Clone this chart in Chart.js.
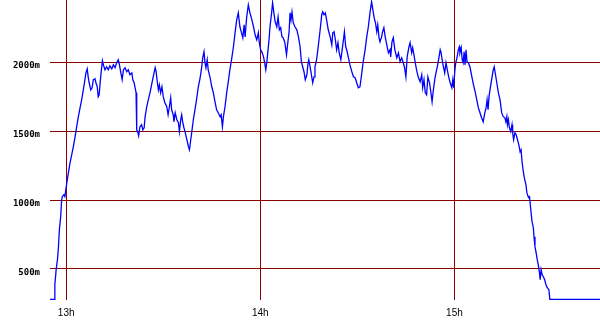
<!DOCTYPE html>
<html>
<head>
<meta charset="utf-8">
<script src="https://cdn.jsdelivr.net/npm/chart.js@4/dist/chart.umd.min.js"></script>
<style>
html,body{margin:0;padding:0;background:#fff;}
#c{display:block;}
</style>
</head>
<body>
<canvas id="c" width="600" height="330"></canvas>
<script>
// time in minutes after 12:00
const minutes = [55.0,56.5,56.5,56.9,57.3,57.6,57.9,58.3,58.6,58.8,59.3,59.6,59.9,60.2,60.7,61.2,61.7,62.2,62.7,63.2,63.7,64.3,64.8,65.3,65.8,66.1,66.5,66.8,67.1,67.6,68.0,68.4,68.9,69.2,69.6,69.9,70.2,70.5,70.8,71.2,71.5,72.0,72.5,73.0,73.5,74.1,74.6,75.1,75.6,76.1,76.4,76.9,77.3,77.7,78.2,78.7,79.2,79.7,80.3,80.6,81.0,81.3,81.6,81.8,82.1,82.4,82.8,83.3,83.7,84.1,84.4,84.9,85.4,85.9,86.4,86.9,87.5,87.8,88.2,88.5,88.8,89.2,89.6,90.0,90.5,91.1,91.5,91.9,92.3,92.6,93.1,93.3,93.7,94.2,94.7,95.0,95.4,95.7,96.0,96.4,96.8,97.3,97.8,98.1,98.5,98.8,99.3,99.8,100.3,100.8,101.4,101.9,102.2,102.6,102.9,103.2,103.6,103.9,104.5,105.0,105.5,106.0,106.5,107.0,107.6,107.9,108.3,108.6,109.1,109.6,110.1,110.6,111.2,111.7,112.2,112.7,113.2,113.7,114.2,114.6,115.0,115.3,115.8,116.3,116.8,117.4,117.9,118.4,118.9,119.4,119.7,120.1,120.6,121.0,121.3,121.7,122.0,122.3,122.7,123.0,123.5,123.8,124.2,124.6,125.1,125.5,125.9,126.3,126.7,127.1,127.6,128.1,128.5,128.9,129.2,129.5,129.8,130.2,130.7,131.3,131.8,132.3,132.7,133.1,133.5,133.9,134.4,134.7,135.0,135.4,135.8,136.2,136.6,136.9,137.4,137.9,138.5,139.0,139.3,139.7,140.1,140.5,141.0,141.6,142.1,142.4,142.8,143.2,143.6,144.0,144.4,144.9,145.3,145.7,146.0,146.4,146.7,147.2,147.7,148.3,148.8,149.3,149.8,150.3,150.8,151.1,151.5,151.8,152.4,152.9,153.4,153.9,154.4,154.8,155.2,155.6,156.0,156.3,156.7,157.0,157.5,157.8,158.2,158.6,159.1,159.6,160.1,160.3,160.7,161.1,161.6,162.2,162.7,163.2,163.7,164.2,164.6,165.0,165.4,165.9,166.3,166.8,167.1,167.5,167.9,168.3,168.8,169.4,169.9,170.2,170.6,171.0,171.4,171.8,172.3,172.7,173.1,173.5,174.0,174.5,175.0,175.6,175.9,176.2,176.6,177.0,177.4,177.8,178.3,178.7,179.2,179.5,179.8,180.1,180.4,180.8,181.2,181.5,181.7,182.1,182.4,182.7,183.0,183.3,183.6,183.9,184.3,184.8,185.4,185.9,186.4,186.9,187.4,187.9,188.4,188.9,189.4,189.8,190.1,190.4,190.7,191.0,191.5,192.0,192.3,192.7,193.1,193.6,194.1,194.6,195.1,195.6,195.9,196.2,196.4,196.7,197.0,197.4,197.8,198.0,198.3,198.7,199.1,199.5,199.9,200.3,200.6,200.9,201.3,201.6,202.1,202.4,202.9,203.2,203.4,203.7,204.0,204.4,204.6,204.9,205.2,205.6,205.9,206.3,206.5,206.8,207.1,207.5,207.9,208.3,208.7,209.2,209.5,225.0];
// altitude in metres
const altitude = [280,280,386,495,567,654,785,879,1002,1024,1038,1024,1075,1125,1198,1270,1328,1386,1451,1524,1596,1669,1727,1799,1872,1922,1951,1893,1850,1799,1814,1872,1879,1850,1821,1749,1763,1850,1922,2009,1980,1944,1966,1944,1973,1951,1980,1959,1995,2017,1988,1922,1872,1944,1959,1930,1944,1908,1922,1872,1850,1814,1778,1509,1495,1466,1531,1546,1509,1524,1604,1676,1727,1777,1835,1893,1959,1930,1850,1799,1835,1777,1821,1749,1705,1676,1618,1676,1741,1654,1618,1567,1633,1582,1560,1495,1582,1618,1567,1524,1488,1437,1386,1364,1437,1488,1582,1654,1727,1814,1886,1966,2031,2075,1995,1959,2017,1944,1886,1821,1777,1712,1654,1633,1604,1618,1531,1604,1676,1777,1857,1944,2031,2111,2212,2306,2357,2256,2212,2176,2270,2183,2328,2415,2357,2306,2256,2198,2162,2212,2140,2089,2067,2038,2002,1944,1995,2067,2162,2256,2357,2430,2357,2292,2256,2328,2234,2249,2183,2176,2140,2053,2140,2220,2357,2306,2364,2285,2256,2234,2183,2111,2002,1966,1930,1872,1908,1980,2017,1966,1908,1850,1893,1966,2017,2111,2234,2343,2364,2343,2357,2306,2234,2183,2125,2212,2220,2162,2089,2140,2067,2017,2089,2162,2220,2111,2089,2038,1980,1930,1893,1886,1850,1814,1821,1872,1944,2002,2089,2183,2256,2357,2437,2379,2321,2285,2220,2270,2176,2147,2183,2220,2249,2183,2125,2067,2089,2038,2147,2176,2089,2031,2067,2002,2031,1995,1959,1893,2038,2104,2140,2067,2104,2053,1995,1944,1893,1857,1908,1814,1872,1777,1763,1893,1850,1785,1712,1799,1886,1944,2002,2089,2067,2017,1966,1922,1995,1944,1886,1850,1814,1872,1814,1930,1995,2031,2089,2111,2067,2104,2017,1995,2075,1980,2089,2002,1995,1966,1893,1835,1785,1727,1669,1633,1596,1567,1633,1669,1727,1654,1749,1799,1872,1944,1966,1908,1850,1777,1727,1633,1604,1596,1567,1604,1546,1582,1524,1495,1546,1488,1437,1488,1473,1437,1401,1350,1364,1278,1205,1162,1111,1053,1017,1024,981,908,843,799,734,662,625,567,531,473,422,495,459,444,422,386,365,350,280,280];
const xTickValues = [60,120,180];
const xTickLabels = ['13h','14h','15h'];
const yTickValues = [500,1000,1500,2000];
const yTickLabels = ['500m','1000m','1500m','2000m'];

const points = minutes.map((t,i)=>({x:t,y:altitude[i]}));
const gridColor = '#8b0000';

function zeroPad(s){ s.paddingTop = 0; s.paddingBottom = 0; s.paddingLeft = 0; s.paddingRight = 0; }

new Chart(document.getElementById('c'), {
  type: 'line',
  data: { datasets: [{
    data: points,
    borderColor: '#0000ff',
    borderWidth: 1.3,
    pointRadius: 0,
    tension: 0,
    fill: false
  }]},
  options: {
    responsive: false,
    animation: false,
    devicePixelRatio: 1,
    layout: { padding: 0 },
    plugins: { legend: {display:false}, tooltip: {enabled:false} },
    scales: {
      x: {
        type: 'linear',
        min: 55, max: 225,
        border: { display: false },
        grid: { color: gridColor, lineWidth: 1, drawTicks: false },
        afterBuildTicks: a => { a.ticks = xTickValues.map(v=>({value:v})); },
        afterFit: s => { s.height = 30; zeroPad(s); },
        ticks: {
          padding: 7,
          color: '#000',
          font: { family: '"Liberation Sans", Arial, sans-serif', size: 10 },
          maxRotation: 0,
          callback: (v) => { const i = xTickValues.indexOf(v); return i>=0 ? xTickLabels[i] : ''; }
        }
      },
      y: {
        type: 'linear',
        min: 275, max: 2450,
        border: { display: false },
        grid: { color: gridColor, lineWidth: 1, drawTicks: false },
        afterBuildTicks: a => { a.ticks = yTickValues.map(v=>({value:v})); },
        afterFit: s => { s.width = 50; zeroPad(s); },
        ticks: {
          padding: 10,
          labelOffset: 4,
          color: '#000',
          font: { family: '"DejaVu Sans Mono", monospace', size: 9, weight: 'bold' },
          callback: (v) => { const i = yTickValues.indexOf(v); return i>=0 ? yTickLabels[i] : ''; }
        }
      }
    }
  }
});
</script>
</body>
</html>
